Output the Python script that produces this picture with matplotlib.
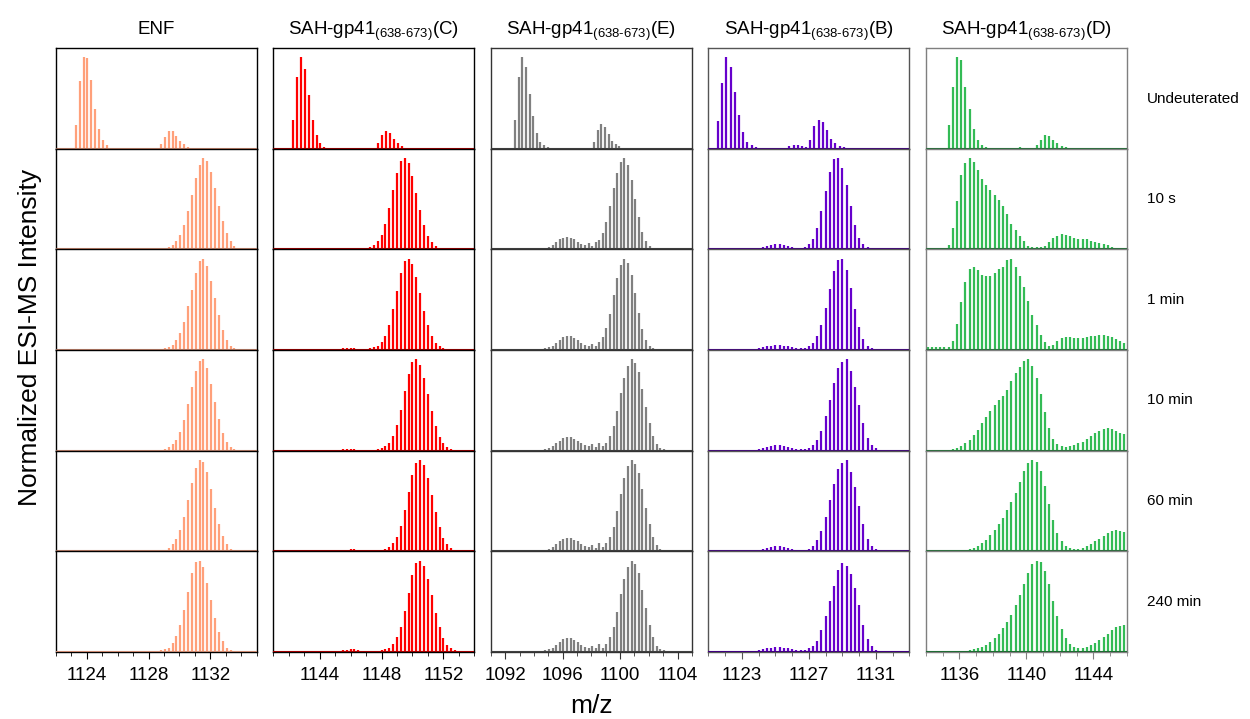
import numpy as np
import matplotlib.pyplot as plt

plt.rcParams['font.family'] = ['Liberation Sans', 'DejaVu Sans']
plt.rcParams['mathtext.fontset'] = 'custom'
plt.rcParams['mathtext.rm'] = 'Liberation Sans'

STEP = 0.25  # isotope spacing (4+ ions)

rows = ['Undeuterated', '10 s', '1 min', '10 min', '60 min', '240 min']
titles = ['ENF',
          'SAH-gp41$_{\\mathrm{(638\u2010673)}}$(C)',
          'SAH-gp41$_{\\mathrm{(638\u2010673)}}$(E)',
          'SAH-gp41$_{\\mathrm{(638\u2010673)}}$(B)',
          'SAH-gp41$_{\\mathrm{(638\u2010673)}}$(D)']
colors = ['#FFA07A', '#FF0000', '#808080', '#6600CC', '#33BB55']
base_colors = ['#C98870', '#A00000', '#404040', '#40007F', '#1F6B33']
spine_colors = ['black', 'black', '#333333', '#555555', '#7F7F7F']
xlims = [(1122, 1135), (1141, 1154), (1091, 1105), (1121, 1133), (1134, 1146)]
major = [[1124, 1128, 1132], [1144, 1148, 1152], [1092, 1096, 1100, 1104],
         [1123, 1127, 1131], [1136, 1140, 1144]]

# ENF
enf_start = [1123.3, 1126.3, 1126.3, 1126.3, 1126.3, 1126.3]
enf = [
    [26, 74, 100, 99, 75, 44, 22, 10, 4, 1, 0, 0, 0, 1, 1, 1, 1, 1, 1, 1, 1, 0,
     5, 13, 19, 19, 14, 9, 5, 2, 1],
    [1, 1, 1, 1, 1, 1, 1, 1, 1, 1, 1, 2, 3, 5, 9, 16, 27, 42, 60, 78, 92, 100,
     97, 85, 67, 48, 31, 18, 9, 4, 2, 1],
    [1, 1, 1, 1, 1, 1, 1, 1, 1, 1, 1, 2, 3, 6, 11, 19, 31, 48, 66, 84, 97, 100,
     92, 76, 57, 38, 22, 11, 5, 2, 1],
    [1, 1, 1, 1, 1, 1, 1, 1, 1, 1, 1, 2, 4, 7, 12, 21, 34, 51, 70, 87, 98, 100,
     90, 73, 53, 35, 20, 10, 4, 2, 1],
    [1, 1, 1, 1, 1, 1, 1, 1, 1, 1, 1, 2, 4, 8, 14, 24, 38, 56, 75, 91, 100, 98,
     87, 68, 48, 30, 17, 8, 3, 1],
    [1, 1, 1, 1, 1, 1, 1, 1, 1, 1, 2, 3, 5, 10, 18, 30, 46, 66, 86, 98, 100,
     93, 76, 57, 37, 22, 12, 5, 2, 1],
]

# SAH-gp41 (C)
c_start = [1142.3, 1145.0, 1145.0, 1145.0, 1145.0, 1145.0]
c_int = [
    [31, 79, 100, 87, 59, 32, 15, 6, 2, 1, 0, 0, 0, 0, 0, 0, 0, 0, 0, 0, 0, 0,
     6, 15, 20, 17, 11, 6, 3, 1],
    [1, 1, 2, 2, 2, 2, 1, 1, 2, 3, 5, 9, 16, 28, 45, 65, 84, 97, 100, 94, 80,
     62, 43, 27, 15, 8, 4, 2, 1, 1, 1, 1, 1],
    [1, 1, 2, 2, 2, 2, 1, 1, 1, 2, 3, 5, 9, 16, 28, 45, 65, 84, 97, 100, 94,
     80, 62, 43, 27, 15, 8, 4, 2, 1, 1, 1, 1],
    [1, 1, 2, 2, 2, 2, 1, 1, 1, 1, 1, 2, 3, 5, 9, 16, 28, 45, 65, 84, 97, 100,
     94, 80, 62, 43, 27, 15, 8, 4, 2, 1, 1],
    [1, 1, 2, 2, 3, 3, 2, 1, 1, 1, 1, 1, 2, 3, 5, 9, 16, 28, 45, 65, 84, 97,
     100, 94, 80, 62, 43, 27, 15, 8, 4, 2, 1],
    [1, 1, 2, 2, 3, 3, 2, 1, 1, 1, 1, 1, 2, 3, 5, 9, 16, 28, 45, 65, 84, 97,
     100, 94, 80, 62, 43, 27, 15, 8, 4, 2, 1],
]

# SAH-gp41 (E)
e_start = [1092.7, 1094.8, 1094.8, 1094.8, 1094.8, 1094.8]
e_int = [
    [32, 78, 100, 89, 60, 36, 17, 8, 4, 2, 1, 0, 0, 0, 0, 1, 1, 1, 1, 1, 0, 0,
     8, 21, 27, 24, 16, 9, 5, 3, 1],
    [2, 3, 5, 8, 11, 13, 14, 13, 11, 8, 6, 5, 7, 4, 8, 10, 18, 30, 48, 67, 84,
     96, 100, 92, 76, 55, 35, 19, 9, 4, 2, 1],
    [2, 3, 5, 8, 11, 14, 15, 15, 13, 11, 8, 6, 5, 7, 4, 9, 14, 24, 40, 60, 79,
     93, 100, 95, 82, 62, 41, 23, 11, 5, 2, 1],
    [2, 3, 5, 8, 11, 14, 15, 15, 13, 11, 8, 6, 5, 7, 4, 9, 5, 9, 16, 27, 44,
     63, 80, 93, 100, 96, 86, 68, 48, 30, 16, 7, 3, 2, 1],
    [2, 3, 5, 8, 11, 14, 15, 15, 13, 11, 8, 6, 5, 7, 4, 9, 5, 9, 16, 27, 44,
     63, 80, 93, 100, 96, 86, 68, 48, 30, 16, 7, 3, 2, 1],
    [2, 3, 5, 8, 11, 14, 15, 15, 13, 11, 8, 6, 5, 7, 4, 9, 5, 9, 16, 27, 44,
     63, 80, 93, 100, 96, 86, 68, 48, 30, 16, 7, 3, 2, 1],
]

# SAH-gp41 (B)
b_start = [1121.58, 1122.5, 1122.5, 1122.5, 1122.5, 1122.5]
b_int = [
    [30, 72, 100, 89, 62, 37, 18, 8, 4, 1.5, 1, 1, 1, 1, 1, 1, 1, 3, 4, 4, 3,
     2, 10, 25, 31, 29, 21, 11, 6, 3, 1.5, 1, 1, 1, 1, 1, 1, 1, 1, 1, 1, 1, 1,
     1, 1, 1],
    [1, 1, 1, 1, 1, 1, 2, 3, 4, 5, 6, 6, 5, 4, 3, 2, 2, 3, 6, 12, 24, 42, 64,
     85, 99, 100, 89, 70, 47, 27, 13, 6, 3, 2, 1, 1, 1, 1, 1, 1, 1],
    [1, 1, 1, 1, 1, 1, 2, 3, 4, 5, 6, 6, 5, 4, 3, 2, 2, 2, 4, 8, 15, 28, 46,
     67, 87, 99, 100, 88, 68, 45, 25, 12, 5, 2, 1, 1, 1, 1, 1, 1, 1],
    [1, 1, 1, 1, 1, 1, 2, 3, 4, 5, 6, 6, 5, 4, 3, 2, 2, 2, 3, 6, 12, 22, 38,
     56, 74, 90, 97, 100, 87, 70, 50, 30, 14, 6, 3, 1, 1, 1, 1, 1, 1],
    [1, 1, 1, 1, 1, 1, 2, 3, 4, 5, 6, 6, 5, 4, 3, 2, 2, 2, 3, 6, 12, 22, 38,
     56, 74, 90, 97, 100, 87, 70, 50, 30, 14, 6, 3, 1, 1, 1, 1, 1, 1],
    [1, 1, 1, 1, 1, 1, 2, 3, 4, 5, 6, 6, 5, 4, 3, 2, 2, 2, 4, 7, 12, 24, 40,
     56, 72, 90, 97, 94, 85, 70, 51, 30, 14, 7, 2],
]

# SAH-gp41 (D)
d_start = [1134.1] * 6
d_int = [
    [0, 0, 0, 0, 0, 26, 68, 100, 97, 68, 43, 22, 10, 4, 2, 1, 0, 0, 0, 1, 1,
     1, 2, 1, 1, 1, 4, 10, 15, 14, 10, 6, 3, 2, 1, 1, 1, 1, 1, 1, 1, 1, 0, 0,
     1, 1, 1, 1],
    [1, 1, 1, 1, 1, 5, 24, 53, 81, 94, 100, 96, 87, 77, 71, 65, 60, 54, 47,
     39, 28, 21, 15, 9, 4, 3, 3, 3, 4, 8, 13, 15, 17, 16, 15, 13, 12, 11, 11,
     9, 8, 7, 6, 5, 3, 2, 1, 1],
    [3, 3, 3, 3, 3, 3, 10, 29, 53, 75, 89, 91, 88, 82, 81, 81, 84, 89, 91, 98,
     100, 91, 81, 69, 54, 38, 27, 17, 9, 5, 6, 10, 13, 14, 14, 13, 13, 13, 14,
     15, 16, 17, 17, 16, 14, 12, 10, 8],
    [1, 1, 1, 1, 1, 1, 2, 3, 5, 8, 12, 17, 23, 30, 37, 44, 50, 55, 60, 67, 76,
     85, 92, 98, 100, 93, 80, 62, 42, 25, 13, 7, 5, 4, 5, 6, 8, 10, 13, 16,
     19, 22, 24, 25, 24, 22, 20, 18],
    [1, 1, 1, 1, 1, 1, 1, 1, 1, 2, 3, 4, 6, 9, 13, 18, 24, 30, 37, 45, 54, 64,
     76, 88, 97, 100, 98, 88, 72, 52, 34, 20, 11, 6, 4, 3, 3, 4, 6, 8, 11, 14,
     17, 20, 22, 23, 22, 21],
    [1, 1, 1, 1, 1, 1, 1, 1, 1, 1, 2, 3, 4, 6, 8, 11, 15, 20, 26, 33, 41, 51,
     62, 74, 86, 96, 100, 98, 89, 74, 56, 39, 25, 15, 9, 6, 5, 5, 6, 8, 10,
     13, 16, 20, 24, 27, 29, 30],
]

starts = [enf_start, c_start, e_start, b_start, d_start]
data = [enf, c_int, e_int, b_int, d_int]

fig = plt.figure(figsize=(12.5, 7.19), dpi=100)
gs = fig.add_gridspec(6, 5, left=0.0446, right=0.9016, top=0.933,
                      bottom=0.093, wspace=0.082, hspace=0)

for j in range(5):
    for i in range(6):
        ax = fig.add_subplot(gs[i, j])
        y = np.array(data[j][i], dtype=float)
        x = starts[j][i] + STEP * np.arange(len(y))
        ax.vlines(x, 0, y, color=colors[j], lw=1.6)
        ax.axhline(0, color=base_colors[j], lw=1.5, zorder=3)
        ax.set_xlim(*xlims[j])
        ax.set_ylim(0, 110)
        ax.set_yticks([])
        for s in ax.spines.values():
            s.set_color(spine_colors[j])
            s.set_linewidth(1.0)
        ax.set_xticks(major[j])
        ax.set_xticks(np.arange(xlims[j][0], xlims[j][1] + 1), minor=True)
        if i == 5:
            ax.tick_params(axis='x', which='major', length=5, labelsize=13.5,
                           pad=6, color=spine_colors[j])
            ax.tick_params(axis='x', which='minor', length=3,
                           color=spine_colors[j])
        else:
            ax.tick_params(axis='x', which='both', length=0,
                           labelbottom=False)
        if i == 0:
            ax.set_title(titles[j], fontsize=13.5, pad=10)
        if j == 4:
            ax.text(1.1, 0.5, rows[i], transform=ax.transAxes, va='center',
                    ha='left', fontsize=11)

fig.text(0.024, 0.531, 'Normalized ESI-MS Intensity', rotation=90,
         va='center', ha='center', fontsize=19)
fig.text(0.473, 0.018, 'm/z', ha='center', va='center', fontsize=19)

plt.savefig('out.png', dpi=100)
